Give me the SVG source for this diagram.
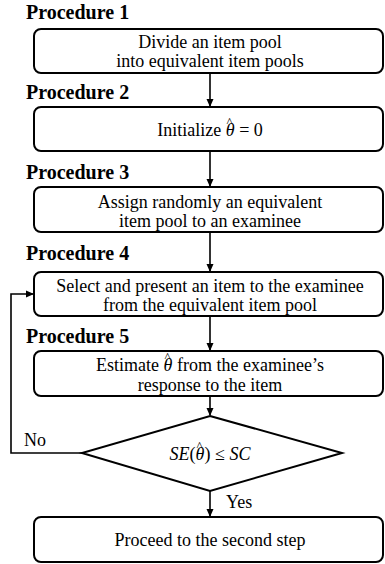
<svg xmlns="http://www.w3.org/2000/svg" width="385" height="564" viewBox="0 0 385 564">
<style>
.box{fill:#fff;stroke:#000;stroke-width:2}
.lbl{font-family:'Liberation Serif','DejaVu Serif',serif;font-size:20px;font-weight:bold;fill:#000}
.t{font-family:'Liberation Serif','DejaVu Serif',serif;font-size:18px;fill:#000;text-anchor:middle}
.s{font-family:'Liberation Serif','DejaVu Serif',serif;font-size:18px;fill:#000}
.m{font-style:italic}
.hat{font-size:13px}
.ln{fill:none;stroke:#000;stroke-width:1.6}
</style>
<defs>
<marker id="ah" markerWidth="8" markerHeight="8" refX="7" refY="4" orient="auto" markerUnits="userSpaceOnUse">
<path d="M0,0.5 L8,4 L0,7.5 Z" fill="#000"/>
</marker>
</defs>
<rect width="385" height="564" fill="#fff"/>
<g id="labels">
<text class="lbl" x="26" y="19">Procedure 1</text>
<text class="lbl" x="26" y="99">Procedure 2</text>
<text class="lbl" x="26" y="179">Procedure 3</text>
<text class="lbl" x="26" y="260">Procedure 4</text>
<text class="lbl" x="26" y="343">Procedure 5</text>
</g>
<g id="connectors">
<line class="ln" x1="210" y1="73" x2="210" y2="106" marker-end="url(#ah)"/>
<line class="ln" x1="210" y1="151" x2="210" y2="186" marker-end="url(#ah)"/>
<line class="ln" x1="210" y1="232" x2="210" y2="271" marker-end="url(#ah)"/>
<line class="ln" x1="210" y1="316" x2="210" y2="350" marker-end="url(#ah)"/>
<line class="ln" x1="210" y1="396" x2="210" y2="415" marker-end="url(#ah)"/>
<line class="ln" x1="210" y1="491" x2="210" y2="516" marker-end="url(#ah)"/>
<polyline class="ln" points="82,453 11,453 11,294 33,294" marker-end="url(#ah)"/>
<text class="s" x="24" y="446">No</text>
<text class="s" x="226" y="508">Yes</text>
</g>
<g id="node1">
<rect class="box" x="34" y="29" width="349" height="44" rx="7"/>
<text class="t" x="210" y="48">Divide an item pool</text>
<text class="t" x="210" y="67">into equivalent item pools</text>
</g>
<g id="node2">
<rect class="box" x="34" y="107" width="349" height="44" rx="7"/>
<text class="t" x="210" y="136">Initialize <tspan class="m">θ</tspan><tspan class="hat" dx="-8" dy="-10">^</tspan><tspan dx="2" dy="10"> = 0</tspan></text>
</g>
<g id="node3">
<rect class="box" x="34" y="187" width="349" height="45" rx="7"/>
<text class="t" x="210" y="208">Assign randomly an equivalent</text>
<text class="t" x="210" y="227">item pool to an examinee</text>
</g>
<g id="node4">
<rect class="box" x="34" y="272" width="349" height="44" rx="7"/>
<text class="t" x="210" y="292">Select and present an item to the examinee</text>
<text class="t" x="210" y="311">from the equivalent item pool</text>
</g>
<g id="node5">
<rect class="box" x="34" y="351" width="349" height="45" rx="7"/>
<text class="t" x="210" y="371">Estimate <tspan class="m">θ</tspan><tspan class="hat" dx="-8" dy="-10">^</tspan><tspan dx="2" dy="10"> from the examinee’s</tspan></text>
<text class="t" x="210" y="391">response to the item</text>
</g>
<g id="decision">
<polygon class="box" points="210,416 342,453 210,491 82,453"/>
<text class="t" x="210" y="460"><tspan class="m">SE</tspan>(<tspan class="m">θ</tspan><tspan class="hat" dx="-8" dy="-10">^</tspan><tspan dx="2" dy="10">) ≤ </tspan><tspan class="m">SC</tspan></text>
</g>
<g id="node6">
<rect class="box" x="34" y="517" width="349" height="45" rx="7"/>
<text class="t" x="210" y="546">Proceed to the second step</text>
</g>
</svg>
